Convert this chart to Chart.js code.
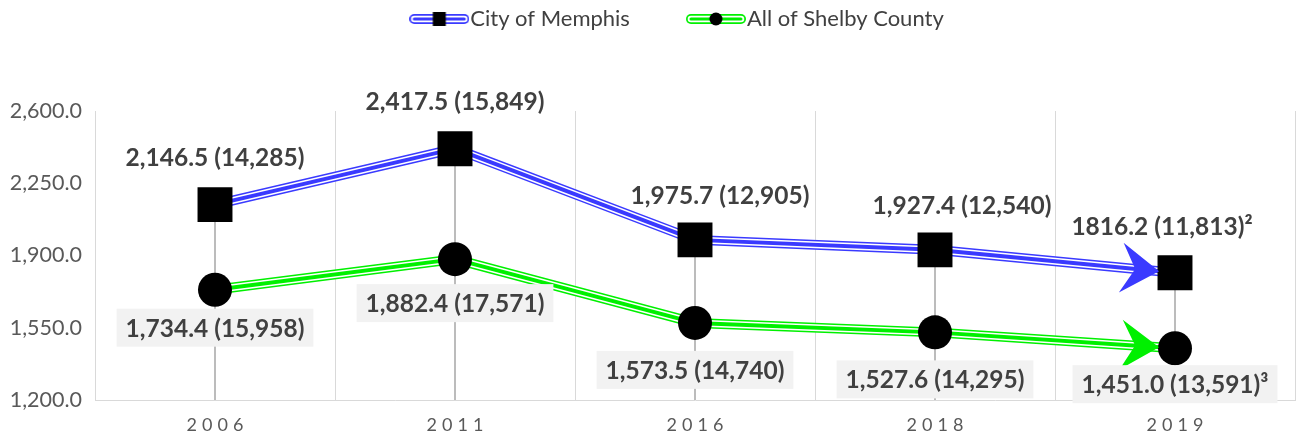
<!DOCTYPE html>
<html>
<head>
<meta charset="utf-8">
<script src="https://cdn.jsdelivr.net/npm/chart.js@4.4.1/dist/chart.umd.min.js"></script>
<style>
  html, body { margin: 0; padding: 0; background: #fff; }
  #wrap { width: 1296px; height: 440px; }
</style>
</head>
<body>
<div id="wrap"><canvas id="grafico"></canvas></div>
<script>
// datos
const years = ['2006', '2011', '2016', '2018', '2019'];
const memphisRate = [2146.5, 2417.5, 1975.7, 1927.4, 1816.2];
const shelbyRate = [1734.4, 1882.4, 1573.5, 1527.6, 1451.0];
const memphisLabels = ['2,146.5 (14,285)', '2,417.5 (15,849)', '1,975.7 (12,905)', '1,927.4 (12,540)', '1816.2 (11,813)²'];
const shelbyLabels = ['1,734.4 (15,958)', '1,882.4 (17,571)', '1,573.5 (14,740)', '1,527.6 (14,295)', '1,451.0 (13,591)³'];
const seriesNames = ['City of Memphis', 'All of Shelby County'];

// estilo
const FONT = 'Lato, "Open Sans", sans-serif';
const blue = '#3a3aff';
const green = '#00f000';
const memphisShift = [[0, -47], [0, -47], [25, -44], [27, -44], [-13, -46]];
const shelbyShift = [[0, 38], [0, 44], [0, 47], [0, 47], [0, 36]];
const LEGEND_GAP = 66;

function legendIcon(color, marker) {
  const c = document.createElement('canvas');
  c.width = 60; c.height = 22;
  const g = c.getContext('2d');
  g.lineCap = 'round';
  [[10, color], [6.5, '#fff'], [3, color]].forEach(([w, col]) => {
    g.strokeStyle = col; g.lineWidth = w;
    g.beginPath(); g.moveTo(5, 11); g.lineTo(55, 11); g.stroke();
  });
  g.fillStyle = '#000';
  if (marker === 'rect') g.fillRect(23.5, 4, 13, 14);
  else { g.beginPath(); g.arc(30, 11, 6.5, 0, Math.PI * 2); g.fill(); }
  return c;
}

function lineLayer(data, color, width) {
  return {
    data: data, borderColor: color, borderWidth: width, pointRadius: 0,
    pointHoverRadius: 0, fill: false, tension: 0, clip: false, borderJoinStyle: 'round'
  };
}

// líneas de caída desde el punto más alto hasta el eje
const dropLines = {
  id: 'dropLines',
  beforeDatasetsDraw(chart) {
    const ctx = chart.ctx;
    const a = chart.getDatasetMeta(0).data;
    const b = chart.getDatasetMeta(1).data;
    ctx.save();
    ctx.strokeStyle = '#a6a6a6';
    ctx.lineWidth = 1.5;
    a.forEach((p, i) => {
      const top = Math.min(p.y, b[i].y);
      ctx.beginPath();
      ctx.moveTo(p.x, top);
      ctx.lineTo(p.x, chart.chartArea.bottom);
      ctx.stroke();
    });
    ctx.restore();
  }
};

// puntas de flecha al final de cada serie
const arrows = {
  id: 'arrows',
  afterDatasetsDraw(chart) {
    const ctx = chart.ctx;
    [[0, blue, 16], [1, green, 16]].forEach(([idx, color, back]) => {
      const pts = chart.getDatasetMeta(idx).data;
      const p = pts[pts.length - 1], q = pts[pts.length - 2];
      const ang = Math.atan2(p.y - q.y, p.x - q.x);
      ctx.save();
      ctx.translate(p.x - Math.cos(ang) * back, p.y - Math.sin(ang) * back);
      ctx.rotate(ang);
      ctx.fillStyle = color;
      ctx.beginPath();
      ctx.moveTo(0, 0);
      ctx.lineTo(-38, -25);
      ctx.lineTo(-24, 0);
      ctx.lineTo(-38, 25);
      ctx.closePath();
      ctx.fill();
      ctx.restore();
    });
  }
};

// etiquetas de datos
const dataLabels = {
  id: 'dataLabels',
  afterDraw(chart) {
    const ctx = chart.ctx;
    ctx.save();
    ctx.font = 'bold 24.5px ' + FONT;
    ctx.textAlign = 'center';
    ctx.textBaseline = 'middle';
    chart.getDatasetMeta(0).data.forEach((p, i) => {
      ctx.fillStyle = '#404040';
      ctx.fillText(memphisLabels[i], p.x + memphisShift[i][0], p.y + memphisShift[i][1]);
    });
    chart.getDatasetMeta(1).data.forEach((p, i) => {
      const x = p.x + shelbyShift[i][0], y = p.y + shelbyShift[i][1];
      const w = ctx.measureText(shelbyLabels[i]).width + 18;
      ctx.fillStyle = '#f2f2f2';
      ctx.fillRect(x - w / 2, y - 19, w, 38);
      ctx.fillStyle = '#404040';
      ctx.fillText(shelbyLabels[i], x, y + 1);
    });
    ctx.restore();
  }
};

// espaciado de letras en el eje x
const spacedX = {
  id: 'spacedX',
  beforeDraw(chart) {
    const sx = chart.scales.x;
    if (sx._spaced) return;
    const orig = sx.drawLabels;
    sx.drawLabels = function(area) {
      this.ctx.save();
      this.ctx.letterSpacing = '5px';
      this.ctx.translate(2.5, 0);
      orig.call(this, area);
      this.ctx.restore();
    };
    sx._spaced = true;
  }
};

const legendFit = {
  id: 'legendFit',
  beforeInit(chart) {
    const orig = chart.legend.fit;
    chart.legend.fit = function() {
      orig.call(this);
      this.height = 111;
    };
  },
  afterLayout(chart) {
    const lg = chart.legend;
    lg.left += 34;
    lg.right += 34;
    lg.top = 8 - LEGEND_GAP;
  }
};

new Chart(document.getElementById('grafico'), {
  type: 'line',
  data: {
    labels: years,
    datasets: [
      { label: seriesNames[0], data: memphisRate, showLine: false, pointStyle: 'rect', pointRadius: 24.7,
        pointHoverRadius: 24.7, pointBackgroundColor: '#000', pointBorderWidth: 0, clip: false },
      { label: seriesNames[1], data: shelbyRate, showLine: false, pointStyle: 'circle', pointRadius: 17,
        pointHoverRadius: 17, pointBackgroundColor: '#000', pointBorderWidth: 0, clip: false },
      lineLayer(memphisRate, blue, 4),
      lineLayer(shelbyRate, green, 4),
      lineLayer(memphisRate, '#fff', 7),
      lineLayer(shelbyRate, '#fff', 7),
      lineLayer(memphisRate, blue, 10),
      lineLayer(shelbyRate, green, 10)
    ]
  },
  options: {
    responsive: true,
    maintainAspectRatio: false,
    animation: false,
    events: [],
    layout: { autoPadding: false, padding: { right: 1 } },
    plugins: {
      tooltip: { enabled: false },
      legend: {
        position: 'top',
        labels: {
          usePointStyle: true,
          pointStyleWidth: 40,
          padding: LEGEND_GAP,
          color: '#404040',
          font: { family: FONT, size: 22 },
          generateLabels: () => [
            { text: seriesNames[0], pointStyle: legendIcon(blue, 'rect'), fontColor: '#404040',
              fillStyle: 'transparent', strokeStyle: 'transparent', lineWidth: 0, hidden: false, datasetIndex: 0 },
            { text: seriesNames[1], pointStyle: legendIcon(green, 'circle'), fontColor: '#404040',
              fillStyle: 'transparent', strokeStyle: 'transparent', lineWidth: 0, hidden: false, datasetIndex: 1 }
          ]
        }
      }
    },
    scales: {
      x: {
        offset: true,
        grid: { color: '#d9d9d9', lineWidth: 1, drawTicks: false, offset: true },
        border: { color: '#d9d9d9', width: 1 },
        ticks: { color: '#595959', font: { family: FONT, size: 18 }, padding: 14 },
        afterFit: s => { s.height = 40; s.paddingLeft = 0; s.paddingRight = 0; }
      },
      y: {
        min: 1200,
        max: 2600,
        ticks: {
          stepSize: 350,
          color: '#595959',
          padding: 13,
          font: { family: FONT, size: 21.5 },
          callback: v => v.toLocaleString('en-US', { minimumFractionDigits: 1, maximumFractionDigits: 1 })
        },
        grid: { display: false, drawTicks: false },
        border: { color: '#d9d9d9', width: 1 },
        afterFit: s => { s.width = 95; s.paddingTop = 0; s.paddingBottom = 0; }
      }
    }
  },
  plugins: [legendFit, dropLines, arrows, dataLabels, spacedX]
});
</script>
</body>
</html>
